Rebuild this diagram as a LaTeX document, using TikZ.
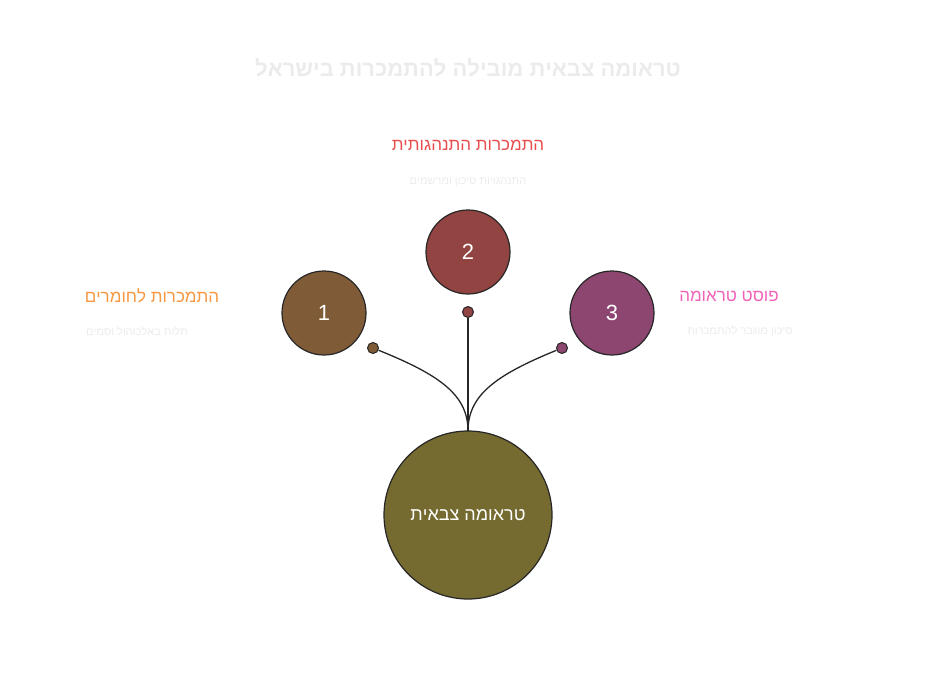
\documentclass[tikz,border=0pt]{standalone}
\usepackage{fontspec}
\setmainfont{Liberation Sans}
\TeXXeTstate=1
\definecolor{cA}{HTML}{7F5B38}
\definecolor{cB}{HTML}{924442}
\definecolor{cC}{HTML}{8D4670}
\definecolor{cM}{HTML}{756B30}
\definecolor{hA}{HTML}{F7973F}
\definecolor{hB}{HTML}{E84C4C}
\definecolor{hC}{HTML}{F062B8}
\definecolor{faint}{HTML}{EBEBEB}
\begin{document}
\begin{tikzpicture}[x=1pt,y=-1pt,
  circ/.style={circle,draw=black!85,line width=1.2pt,text=white,inner sep=0pt},
  dot/.style={circle,draw=black!85,line width=1pt,minimum size=11pt,inner sep=0pt},
  head/.style={font=\fontsize{17}{20}\selectfont},
  sub/.style={text=faint,font=\fontsize{11}{13}\selectfont},
  conn/.style={draw=black!85,line width=1.3pt}]
\useasboundingbox (0,0) rectangle (936,675);
\node[text=faint,font=\fontsize{22}{26}\selectfont\bfseries] (title) at (468,68) {\beginR טראומה צבאית מובילה להתמכרות בישראל\endR};
\node[circ,fill=cA,minimum size=84pt,font=\fontsize{22}{26}\selectfont] (c1) at (324,313) {1};
\node[circ,fill=cB,minimum size=84pt,font=\fontsize{22}{26}\selectfont] (c2) at (468,252) {2};
\node[circ,fill=cC,minimum size=84pt,font=\fontsize{22}{26}\selectfont] (c3) at (612,313) {3};
\node[circ,fill=cM,minimum size=168pt,font=\fontsize{18}{22}\selectfont] (m) at (468,515) {\beginR טראומה צבאית\endR};
\node[dot,fill=cA] (d1) at (373,348) {};
\node[dot,fill=cB] (d2) at (468,312) {};
\node[dot,fill=cC] (d3) at (562,348) {};
\coordinate (j) at (468,431);
\draw[conn] (d1) .. controls (440,375) and (468,395) .. (j);
\draw[conn] (d2) -- (j);
\draw[conn] (d3) .. controls (496,375) and (468,395) .. (j);
\node[head,text=hA] (h1) at (152,296) {\beginR התמכרות לחומרים\endR};
\node[sub] (s1) at (137,331) {\beginR תלות באלכוהול וסמים\endR};
\node[head,text=hB] (h2) at (468,145) {\beginR התמכרות התנהגותית\endR};
\node[sub] (s2) at (468,182) {\beginR התנהגויות סיכון ומרשמים\endR};
\node[head,text=hC] (h3) at (729,296) {\beginR פוסט טראומה\endR};
\node[sub] (s3) at (740,331) {\beginR סיכון מוגבר להתמכרות\endR};
\end{tikzpicture}
\end{document}
